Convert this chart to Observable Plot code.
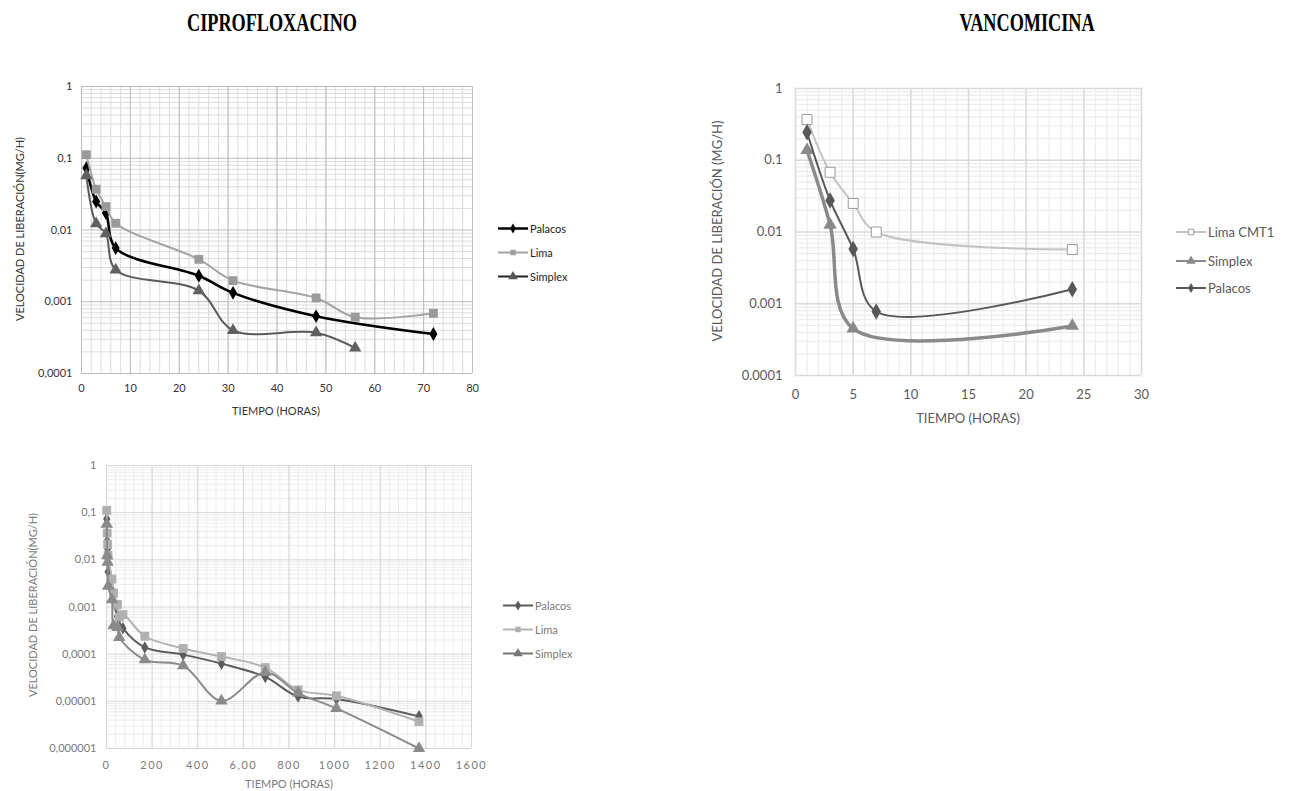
<!DOCTYPE html>
<html><head><meta charset="utf-8">
<script src="https://cdn.jsdelivr.net/npm/d3@7"></script>
<script src="https://cdn.jsdelivr.net/npm/@observablehq/plot@0.6"></script>
<style>
body{margin:0;background:#fff;}
#page{position:relative;width:1294px;height:791px;overflow:hidden;font-family:Lato,"Open Sans",sans-serif;background:#fff;}
.abs{position:absolute;white-space:nowrap;}
.title{font-family:"Liberation Serif","Times New Roman",serif;font-weight:bold;font-size:26px;color:#000;transform:translateX(-50%) scaleX(0.7);}
.ytitle{transform:translate(-50%,-50%) rotate(-90deg);}
.xtitle{transform:translate(-50%,-50%);}
.leg{display:flex;align-items:center;transform:translateY(-50%);}
.leg svg{display:block;margin-right:2px;}
#bot g[aria-label="x-axis tick label"] text{letter-spacing:1.5px;}
</style></head>
<body><div id="page"></div>
<script>
// ---------- DATA ----------
// Ciprofloxacino, 0-72 h
const ciproTimePalacos = [1, 3, 5, 7, 24, 31, 48, 72];
const ciproPalacos     = [0.073, 0.025, 0.0172, 0.0056, 0.0023, 0.00133, 0.00063, 0.000355];
const ciproTimeLima    = [1, 3, 5, 7, 24, 31, 48, 56, 72];
const ciproLima        = [0.112, 0.037, 0.0212, 0.0124, 0.0039, 0.00197, 0.00113, 0.00061, 0.00069];
const ciproTimeSimplex = [1, 3, 5, 7, 24, 31, 48, 56];
const ciproSimplex     = [0.057, 0.0123, 0.0089, 0.00278, 0.00143, 0.00040, 0.00037, 0.000227];

// Ciprofloxacino, later measurements (h)
const longTime         = [168, 336, 504, 696, 840, 1008, 1370];
const longPalacos      = [0.000139, 0.0000977, 0.000063, 0.000033, 0.0000126, 0.0000112, 0.0000048];
const longLima         = [0.00024, 0.000132, 0.000089, 0.000052, 0.0000175, 0.0000131, 0.0000037];
const longSimplex      = [0.000076, 0.000057, 0.0000102, 0.000041, 0.000015, 0.0000071, 0.000001];

// Vancomicina
const vancoTimeLima    = [1, 3, 5, 7, 24];
const vancoLima        = [0.37, 0.068, 0.025, 0.0100, 0.0057];
const vancoTimeSimplex = [1, 3, 5, 24];
const vancoSimplex     = [0.138, 0.0126, 0.00045, 0.00049];
const vancoTimePalacos = [1, 3, 5, 7, 24];
const vancoPalacos     = [0.245, 0.0275, 0.0058, 0.00078, 0.00159];

// Tick labels
const ciproYTicks  = [1, 0.1, 0.01, 0.001, 0.0001];
const ciproYLabels = ["1", "0,1", "0,01", "0,001", "0,0001"];
const ciproXTicks  = [0, 10, 20, 30, 40, 50, 60, 70, 80];
const vancoYTicks  = [1, 0.1, 0.01, 0.001, 0.0001];
const vancoYLabels = ["1", "0.1", "0.01", "0.001", "0.0001"];
const vancoXTicks  = [0, 5, 10, 15, 20, 25, 30];
const longYTicks   = [1, 0.1, 0.01, 0.001, 0.0001, 0.00001, 0.000001];
const longYLabels  = ["1", "0,1", "0,01", "0,001", "0,0001", "0,00001", "0,000001"];
const longXTicks   = [0, 200, 400, 600, 800, 1000, 1200, 1400, 1600];
const longXLabels  = ["0", "200", "400", "6,00", "800", "1000", "1200", "1400", "1600"];

const ciproNames = ["Palacos", "Lima", "Simplex"];
const vancoNames = ["Lima CMT1", "Simplex", "Palacos"];

// ---------- HELPERS ----------
const page = document.getElementById("page");
function rows(ts, vs) { return ts.map((t, i) => ({t, v: vs[i]})); }
function logMinor(lo, hi) { const o = []; for (let e = lo; e < hi; e++) for (let k = 2; k <= 9; k++) o.push(+(k * Math.pow(10, e)).toPrecision(3)); return o; }
function place(el, left, top) { el.style.position = "absolute"; el.style.left = left + "px"; el.style.top = top + "px"; page.appendChild(el); return el; }
function text(cls, str, left, top, style) {
  const d = document.createElement("div"); d.className = "abs " + cls; d.textContent = str;
  Object.assign(d.style, style || {}); place(d, left, top); return d;
}
function markerSVG(sym, color, lineColor, lw, hollow) {
  const ns = "http://www.w3.org/2000/svg";
  const s = document.createElementNS(ns, "svg"); s.setAttribute("width", 30); s.setAttribute("height", 12);
  const l = document.createElementNS(ns, "line");
  l.setAttribute("x1", 0); l.setAttribute("x2", 30); l.setAttribute("y1", 6); l.setAttribute("y2", 6);
  l.setAttribute("stroke", lineColor); l.setAttribute("stroke-width", lw); s.appendChild(l);
  const p = document.createElementNS(ns, "path");
  p.setAttribute("d", d3.symbol(sym, sym === d3.symbolTriangle ? 40 : 30)());
  p.setAttribute("transform", "translate(15,6)");
  if (hollow) { p.setAttribute("fill", "#fff"); p.setAttribute("stroke", color); p.setAttribute("stroke-width", 1); }
  else p.setAttribute("fill", color);
  s.appendChild(p); return s;
}
function legend(items, left, ys, font) {
  items.forEach((it, i) => {
    const d = document.createElement("div"); d.className = "abs leg";
    d.appendChild(markerSVG(it.sym, it.color, it.line, it.lw, it.hollow));
    const sp = document.createElement("span"); sp.textContent = it.name;
    Object.assign(sp.style, font); d.appendChild(sp);
    place(d, left, ys[i]);
  });
}
function seriesMarks(series) {
  const m = [];
  for (const s of series) {
    m.push(Plot.line(s.data, {x: "t", y: "v", stroke: s.color, strokeWidth: s.lw, curve: "catmull-rom"}));
    m.push(Plot.dot(s.data, {x: "t", y: "v", symbol: s.symbol, r: s.r, fill: s.hollow ? "#fff" : s.mcolor, stroke: s.hollow ? s.mcolor : "none", strokeWidth: 1}));
  }
  return m;
}

// ---------- CHART 1: CIPROFLOXACINO 0-80 h ----------
const c1 = [
  {name: ciproNames[0], data: rows(ciproTimePalacos, ciproPalacos), color: "#000", mcolor: "#000", lw: 2.6, symbol: "diamond", r: 4.2},
  {name: ciproNames[1], data: rows(ciproTimeLima, ciproLima), color: "#a3a3a3", mcolor: "#9a9a9a", lw: 2, symbol: "square", r: 5},
  {name: ciproNames[2], data: rows(ciproTimeSimplex, ciproSimplex), color: "#5a5a5a", mcolor: "#606060", lw: 2, symbol: "triangle", r: 4.6}
];
const p1 = Plot.plot({
  width: 480, height: 360, marginLeft: 81, marginRight: 8, marginTop: 26, marginBottom: 47,
  style: {fontFamily: "Lato, 'Open Sans', sans-serif", fontSize: "11px", color: "#333", background: "transparent"},
  x: {domain: [0, 80]},
  y: {type: "log", domain: [0.0001, 1]},
  marks: [
    Plot.gridX(d3.range(0, 81, 2), {stroke: "#dcdcdc", strokeOpacity: 1, strokeWidth: 1}),
    Plot.gridY(logMinor(-4, 0), {stroke: "#dcdcdc", strokeOpacity: 1, strokeWidth: 1}),
    Plot.gridX(ciproXTicks, {stroke: "#bdbdbd", strokeOpacity: 1}),
    Plot.gridY(ciproYTicks, {stroke: "#bdbdbd", strokeOpacity: 1}),
    Plot.axisX(ciproXTicks, {tickSize: 0, tickPadding: 11, label: null}),
    Plot.axisY(ciproYTicks, {tickSize: 0, tickPadding: 9, label: null, tickFormat: d => ciproYLabels[ciproYTicks.indexOf(d)]}),
    ...seriesMarks(c1)
  ]
});
place(p1, 0, 60);
text("ytitle", "VELOCIDAD DE LIBERACIÓN(MG/H)", 19, 229, {fontSize: "11px", color: "#333"});
text("xtitle", "TIEMPO (HORAS)", 276, 410, {fontSize: "11px", color: "#333"});
legend([
  {name: ciproNames[0], sym: d3.symbolDiamond, color: "#000", line: "#000", lw: 2.4},
  {name: ciproNames[1], sym: d3.symbolSquare, color: "#a0a0a0", line: "#a3a3a3", lw: 2},
  {name: ciproNames[2], sym: d3.symbolTriangle, color: "#555", line: "#222", lw: 2}
], 498, [228, 252, 276], {fontSize: "11px", color: "#222"});

// ---------- CHART 2: VANCOMICINA ----------
const c2 = [
  {name: vancoNames[0], data: rows(vancoTimeLima, vancoLima), color: "#c3c3c3", mcolor: "#9a9a9a", lw: 2, symbol: "square", r: 5.6, hollow: true},
  {name: vancoNames[1], data: rows(vancoTimeSimplex, vancoSimplex), color: "#8a8a8a", mcolor: "#8a8a8a", lw: 3.5, symbol: "triangle", r: 5},
  {name: vancoNames[2], data: rows(vancoTimePalacos, vancoPalacos), color: "#585858", mcolor: "#585858", lw: 2, symbol: "diamond", r: 5}
];
const p2 = Plot.plot({
  width: 460, height: 360, marginLeft: 105, marginRight: 9, marginTop: 28, marginBottom: 45,
  style: {fontFamily: "Lato, 'Open Sans', sans-serif", fontSize: "13px", color: "#595959", background: "transparent"},
  x: {domain: [0, 30]},
  y: {type: "log", domain: [0.0001, 1]},
  marks: [
    Plot.gridX(d3.range(0, 31, 1), {stroke: "#ececec", strokeOpacity: 1, strokeWidth: 1.2}),
    Plot.gridY(logMinor(-4, 0), {stroke: "#ececec", strokeOpacity: 1, strokeWidth: 1.2}),
    Plot.gridX(vancoXTicks, {stroke: "#d9d9d9", strokeOpacity: 1, strokeWidth: 1.4}),
    Plot.gridY(vancoYTicks, {stroke: "#d9d9d9", strokeOpacity: 1, strokeWidth: 1.4}),
    Plot.axisX(vancoXTicks, {tickSize: 0, tickPadding: 14, label: null}),
    Plot.axisY(vancoYTicks, {tickSize: 0, tickPadding: 13, label: null, tickFormat: d => vancoYLabels[vancoYTicks.indexOf(d)]}),
    ...seriesMarks(c2)
  ]
});
place(p2, 690, 60);
text("ytitle", "VELOCIDAD DE LIBERACIÓN (MG/H)", 717, 231, {fontSize: "13px", color: "#595959"});
text("xtitle", "TIEMPO (HORAS)", 968, 418, {fontSize: "13px", color: "#595959"});
legend([
  {name: vancoNames[0], sym: d3.symbolSquare, color: "#9a9a9a", line: "#c3c3c3", lw: 2, hollow: true},
  {name: vancoNames[1], sym: d3.symbolTriangle, color: "#8a8a8a", line: "#8a8a8a", lw: 2},
  {name: vancoNames[2], sym: d3.symbolDiamond, color: "#585858", line: "#585858", lw: 2}
], 1176, [232, 261, 288], {fontSize: "13px", color: "#595959"});

// ---------- CHART 3: CIPROFLOXACINO long term ----------
const c3 = [
  {name: ciproNames[0], data: rows(ciproTimePalacos.concat(longTime), ciproPalacos.concat(longPalacos)), color: "#5c5c5c", mcolor: "#5c5c5c", lw: 2, symbol: "diamond", r: 3.8},
  {name: ciproNames[1], data: rows(ciproTimeLima.concat(longTime), ciproLima.concat(longLima)), color: "#b3b3b3", mcolor: "#b0b0b0", lw: 2, symbol: "square", r: 5},
  {name: ciproNames[2], data: rows(ciproTimeSimplex.concat(longTime), ciproSimplex.concat(longSimplex)), color: "#8a8a8a", mcolor: "#8a8a8a", lw: 2, symbol: "triangle", r: 4.6}
];
const p3 = Plot.plot({
  width: 500, height: 351, marginLeft: 106, marginRight: 29, marginTop: 25, marginBottom: 43,
  style: {fontFamily: "Lato, 'Open Sans', sans-serif", fontSize: "11px", color: "#7a7a7a", background: "transparent"},
  x: {domain: [0, 1600]},
  y: {type: "log", domain: [0.000001, 1]},
  marks: [
    Plot.gridX(d3.range(0, 1601, 40), {stroke: "#ececec", strokeOpacity: 1}),
    Plot.gridY(logMinor(-6, 0), {stroke: "#ececec", strokeOpacity: 1}),
    Plot.gridX(longXTicks, {stroke: "#d6d6d6", strokeOpacity: 1}),
    Plot.gridY(longYTicks, {stroke: "#d6d6d6", strokeOpacity: 1}),
    Plot.axisX(longXTicks, {tickSize: 0, tickPadding: 13, label: null, tickFormat: d => longXLabels[longXTicks.indexOf(d)]}),
    Plot.axisY(longYTicks, {tickSize: 0, tickPadding: 10, label: null, tickFormat: d => longYLabels[longYTicks.indexOf(d)]}),
    ...seriesMarks(c3)
  ]
});
p3.id = "bot";
place(p3, 0, 440);
text("ytitle", "VELOCIDAD DE LIBERACIÓN(MG/H)", 32, 605, {fontSize: "11px", color: "#7a7a7a"});
text("xtitle", "TIEMPO (HORAS)", 289, 783, {fontSize: "11px", color: "#7a7a7a"});
legend([
  {name: ciproNames[0], sym: d3.symbolDiamond, color: "#5c5c5c", line: "#5c5c5c", lw: 2},
  {name: ciproNames[1], sym: d3.symbolSquare, color: "#b0b0b0", line: "#b3b3b3", lw: 2},
  {name: ciproNames[2], sym: d3.symbolTriangle, color: "#777", line: "#777", lw: 2}
], 503, [605, 629, 653], {fontSize: "11px", color: "#7a7a7a"});

// ---------- TITLES ----------
text("title", "CIPROFLOXACINO", 272, 8);
text("title", "VANCOMICINA", 1027, 8);
</script>
</body></html>
